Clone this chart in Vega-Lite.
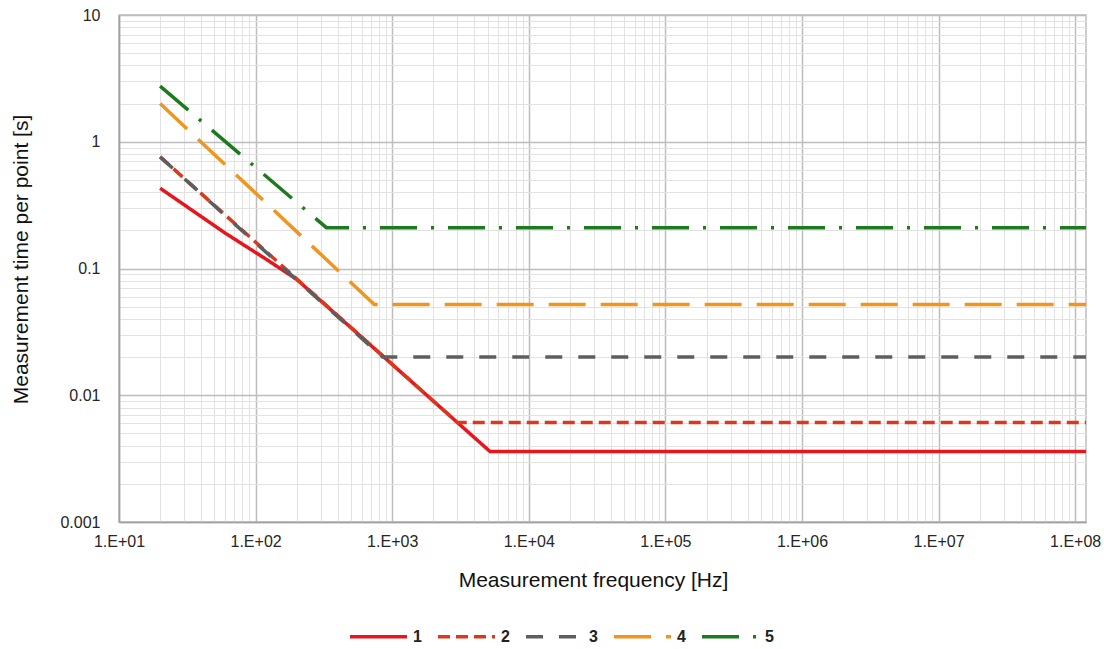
{
  "$schema": "https://vega.github.io/schema/vega-lite/v6.json",
  "width": 967,
  "height": 507,
  "autosize": {"type": "none"},
  "padding": {"left": 119, "top": 15, "right": 18, "bottom": 127},
  "background": "white",
  "config": {
    "view": {"stroke": "#BDBDBD", "strokeWidth": 1.5},
    "font": "Liberation Sans"
  },
  "data": {
    "values": [
      {"series": "1", "freq": 20, "time": 0.43},
      {"series": "1", "freq": 60, "time": 0.19},
      {"series": "1", "freq": 120, "time": 0.118},
      {"series": "1", "freq": 200, "time": 0.082},
      {"series": "1", "freq": 5200, "time": 0.0036},
      {"series": "1", "freq": 120000000, "time": 0.0036},
      {"series": "2", "freq": 20, "time": 0.76},
      {"series": "2", "freq": 3000, "time": 0.0061},
      {"series": "2", "freq": 120000000, "time": 0.0061},
      {"series": "3", "freq": 20, "time": 0.76},
      {"series": "3", "freq": 850, "time": 0.02},
      {"series": "3", "freq": 120000000, "time": 0.02},
      {"series": "4", "freq": 20, "time": 2.0},
      {"series": "4", "freq": 740, "time": 0.052},
      {"series": "4", "freq": 120000000, "time": 0.052},
      {"series": "5", "freq": 20, "time": 2.75},
      {"series": "5", "freq": 330, "time": 0.21},
      {"series": "5", "freq": 120000000, "time": 0.21}
    ]
  },
  "mark": {"type": "line", "strokeWidth": 3.5, "strokeCap": "butt", "clip": true},
  "encoding": {
    "x": {
      "field": "freq",
      "type": "quantitative",
      "scale": {"type": "log", "domain": [10, 120000000], "nice": false},
      "axis": {
        "title": "Measurement frequency [Hz]",
        "titleFont": "Liberation Sans",
        "titleFontSize": 21,
        "titleFontWeight": "normal",
        "titleColor": "#111",
        "titlePadding": 20,
        "titleX": 474,
        "labelFont": "Liberation Sans",
        "labelFontSize": 16,
        "labelColor": "#262626",
        "labelPadding": 11,
        "labelFlush": false,
        "labelOverlap": false,
        "ticks": false,
        "domainColor": "#A0A0A0",
        "domainWidth": 1.5,
        "values": [10,20,30,40,50,60,70,80,90,100,200,300,400,500,600,700,800,900,1000,2000,3000,4000,5000,6000,7000,8000,9000,10000,20000,30000,40000,50000,60000,70000,80000,90000,100000,200000,300000,400000,500000,600000,700000,800000,900000,1000000,2000000,3000000,4000000,5000000,6000000,7000000,8000000,9000000,10000000,20000000,30000000,40000000,50000000,60000000,70000000,80000000,90000000,100000000],
        "labelExpr": "abs(log(datum.value)/LN10 - round(log(datum.value)/LN10)) < 0.000001 ? '1.E+' + (round(log(datum.value)/LN10) < 10 ? '0' : '') + round(log(datum.value)/LN10) : ''",
        "gridColor": {"condition": {"test": "abs(log(datum.value)/LN10 - round(log(datum.value)/LN10)) < 0.000001", "value": "#BDBDBD"}, "value": "#E2E2E2"},
        "gridWidth": {"condition": {"test": "abs(log(datum.value)/LN10 - round(log(datum.value)/LN10)) < 0.000001", "value": 1.5}, "value": 1}
      }
    },
    "y": {
      "field": "time",
      "type": "quantitative",
      "scale": {"type": "log", "domain": [0.001, 10], "nice": false},
      "axis": {
        "title": "Measurement time per point [s]",
        "titleFont": "Liberation Sans",
        "titleFontSize": 21,
        "titleFontWeight": "normal",
        "titleColor": "#111",
        "titlePadding": 28,
        "titleY": 244,
        "labelFont": "Liberation Sans",
        "labelFontSize": 16,
        "labelColor": "#262626",
        "labelPadding": 19,
        "labelFlush": false,
        "labelOverlap": false,
        "ticks": false,
        "domainColor": "#A0A0A0",
        "domainWidth": 1.5,
        "values": [0.001,0.002,0.003,0.004,0.005,0.006,0.007,0.008,0.009,0.01,0.02,0.03,0.04,0.05,0.06,0.07,0.08,0.09,0.1,0.2,0.3,0.4,0.5,0.6,0.7,0.8,0.9,1,2,3,4,5,6,7,8,9,10],
        "labelExpr": "abs(log(datum.value)/LN10 - round(log(datum.value)/LN10)) < 0.000001 ? format(datum.value, '~g') : ''",
        "gridColor": {"condition": {"test": "abs(log(datum.value)/LN10 - round(log(datum.value)/LN10)) < 0.000001", "value": "#BDBDBD"}, "value": "#E2E2E2"},
        "gridWidth": {"condition": {"test": "abs(log(datum.value)/LN10 - round(log(datum.value)/LN10)) < 0.000001", "value": 1.5}, "value": 1}
      }
    },
    "color": {
      "field": "series",
      "type": "nominal",
      "scale": {"domain": ["1","2","3","4","5"], "range": ["#E8161C", "#D93A1E", "#5E5E5E", "#F0961E", "#1E7A1E"]},
      "legend": {
        "orient": "none",
        "legendX": 229,
        "legendY": 591,
        "direction": "horizontal",
        "title": null,
        "symbolType": "stroke",
        "symbolSize": 3249,
        "symbolStrokeWidth": 3.5,
        "labelFont": "Liberation Sans",
        "labelFontSize": 16,
        "labelFontWeight": "bold",
        "labelColor": "#222",
        "labelOffset": 4,
        "columnPadding": 9
      }
    },
    "strokeDash": {
      "field": "series",
      "type": "nominal",
      "scale": {"domain": ["1","2","3","4","5"], "range": [[1,0],[12,6],[17,16],[37,15],[37,14,3,14]]}
    }
  }
}
